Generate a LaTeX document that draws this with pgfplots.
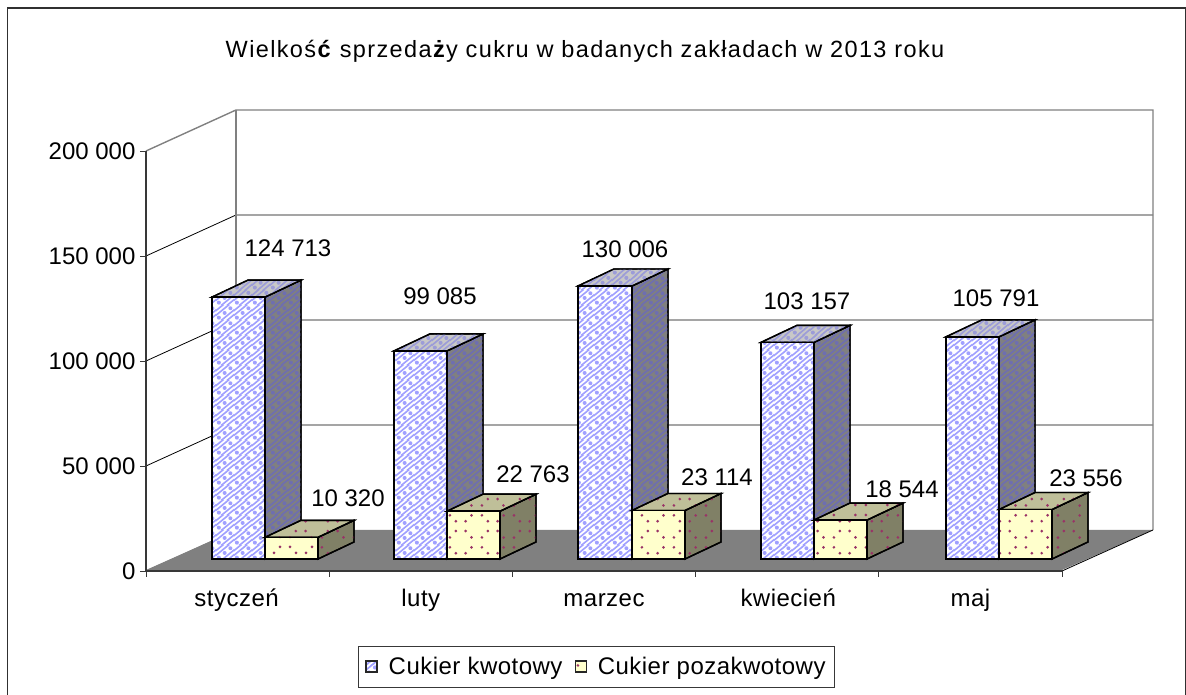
\documentclass[border=0pt]{standalone}
\usepackage{fontspec}
\setmainfont{Liberation Sans}
\usepackage{pgfplots}
\pgfplotsset{compat=1.18}
\usetikzlibrary{patterns}
\definecolor{wall}{HTML}{808080}
\definecolor{axisc}{HTML}{383838}
\definecolor{framec}{HTML}{303030}
\definecolor{kwa}{HTML}{A0A0FF}
\definecolor{kwb}{HTML}{6E6EB0}
\definecolor{kwc}{HTML}{9C9CD8}
\definecolor{kwtop}{HTML}{C8C8C8}
\definecolor{yfront}{HTML}{FFFFCC}
\definecolor{ytop}{HTML}{BFBF99}
\definecolor{yside}{HTML}{808066}
\definecolor{ydot}{HTML}{993366}
\pgfdeclarepatternformonly{kwpat}{\pgfqpoint{0pt}{0pt}}{\pgfqpoint{18pt}{15pt}}{\pgfqpoint{18pt}{15pt}}{
  \pgfsetlinewidth{1.7pt}
  \pgfpathmoveto{\pgfqpoint{-2pt}{3.33pt}}\pgfpathlineto{\pgfqpoint{20pt}{21.67pt}}
  \pgfpathmoveto{\pgfqpoint{-2pt}{8.33pt}}\pgfpathlineto{\pgfqpoint{20pt}{26.67pt}}
  \pgfpathmoveto{\pgfqpoint{-2pt}{-11.67pt}}\pgfpathlineto{\pgfqpoint{20pt}{6.67pt}}
  \pgfpathmoveto{\pgfqpoint{-2pt}{-6.67pt}}\pgfpathlineto{\pgfqpoint{20pt}{11.67pt}}
  \pgfusepath{stroke}
  \pgfpathcircle{\pgfqpoint{3pt}{2.5pt}}{2.1pt}
  \pgfpathcircle{\pgfqpoint{9pt}{7.5pt}}{2.1pt}
  \pgfpathcircle{\pgfqpoint{15pt}{12.5pt}}{2.1pt}
  \pgfusepath{fill}
}
\pgfdeclarepatternformonly{ypat}{\pgfqpoint{0pt}{0pt}}{\pgfqpoint{32pt}{32pt}}{\pgfqpoint{32pt}{32pt}}{
  \pgfpathcircle{\pgfqpoint{8pt}{4pt}}{1.5pt}
  \pgfpathcircle{\pgfqpoint{8pt}{14pt}}{1.5pt}
  \pgfpathcircle{\pgfqpoint{18pt}{4pt}}{1.5pt}
  \pgfpathcircle{\pgfqpoint{18pt}{14pt}}{1.5pt}
  \pgfpathcircle{\pgfqpoint{2pt}{20pt}}{1.5pt}
  \pgfpathcircle{\pgfqpoint{2pt}{30pt}}{1.5pt}
  \pgfpathcircle{\pgfqpoint{24pt}{20pt}}{1.5pt}
  \pgfpathcircle{\pgfqpoint{24pt}{30pt}}{1.5pt}
  \pgfusepath{fill}
}
\newcommand\fs{\fontsize{24}{26}\selectfont}
\tikzset{
  edge/.style={draw=black,line width=1.4pt,line join=miter},
  kwfront/.style={edge,preaction={fill=white},pattern=kwpat,pattern color=kwa},
  kwside/.style={edge,preaction={fill=wall},pattern=kwpat,pattern color=kwb},
  kwtops/.style={edge,preaction={fill=kwtop},pattern=kwpat,pattern color=kwc},
  yfronts/.style={edge,preaction={fill=yfront},pattern=ypat,pattern color=ydot},
  ysides/.style={edge,preaction={fill=yside},pattern=ypat,pattern color=ydot},
  ytops/.style={edge,preaction={fill=ytop},pattern=ypat,pattern color=ydot},
  lab/.style={font=\fs,anchor=center,inner sep=0pt},
}
% #1 x left, #2 x right (pixels), #3 value, #4 front, #5 top, #6 side
\newcommand\threedbar[6]{%
  \edef\yb{5714}%
  \edef\yt{\the\numexpr5714+#3\relax}%
  \edef\ybb{\the\numexpr5714+8095\relax}%
  \edef\ytb{\the\numexpr5714+#3+8095\relax}%
  \edef\xla{\the\numexpr#1+36\relax}%
  \edef\xra{\the\numexpr#2+36\relax}%
  \addplot[forget plot,#6] coordinates {(#2,\yb) (#2,\yt) (\xra,\ytb) (\xra,\ybb)} --cycle;
  \addplot[forget plot,#5] coordinates {(#1,\yt) (\xla,\ytb) (\xra,\ytb) (#2,\yt)} --cycle;
  \addplot[forget plot,#4] coordinates {(#1,\yb) (#1,\yt) (#2,\yt) (#2,\yb)} --cycle;
}
\begin{document}
\begin{tikzpicture}[x=1pt,y=1pt]
\useasboundingbox (0,0) rectangle (1186,695);
\begin{axis}[
  at={(146pt,124pt)},anchor=south west,
  scale only axis,width=916pt,height=420pt,
  xmin=146,xmax=1062,ymin=0,ymax=200000,
  clip=false,axis on top,
  axis x line=bottom,axis y line=left,
  axis line style={-,draw=axisc,line width=1.2pt},
  xtick={236.6,420.8,604,788.2,970.4},
  xticklabels={styczeń,luty,marzec,kwiecień,maj},
  minor xtick={146,329.2,512.4,695.6,878.8,1062},
  ytick={0,50000,100000,150000,200000},
  yticklabels={0,50 000,100 000,150 000,200 000},
  scaled y ticks=false,
  tick align=outside,
  major tick length=6pt,minor tick length=6pt,
  xtick style={draw=none},
  minor x tick style={draw=axisc,line width=0.9pt},
  ytick style={draw=axisc,line width=0.9pt},
  tick label style={font=\fs,text=black},
  xticklabel style={anchor=base,yshift=-30pt,font=\fs\addfontfeature{LetterSpace=2}},
  yticklabel style={xshift=-1pt},
  title={Wielkoś\textbf{ć} sprzeda\textbf{ż}y cukru w badanych zakładach w 2013 roku},
  title style={font=\fontsize{23.5}{26}\selectfont\addfontfeature{LetterSpace=5.8},at={(rel axis cs:0.4793,1.2238)},anchor=center,inner sep=0pt},
  legend columns=2,
  legend style={at={(axis cs:596.5,-45714)},anchor=center,draw=axisc,line width=0.9pt,
    font=\fs\addfontfeature{LetterSpace=2},
    inner xsep=6.5pt,inner ysep=9pt,
    /tikz/every odd column/.append style={column sep=9pt},
    /tikz/every even column/.append style={column sep=10pt}},
]
\addlegendimage{legend image code/.code={\draw[line width=1.3pt,draw=black!85,preaction={fill=white},pattern=kwpat,pattern color=kwa] (0pt,-5pt) rectangle (11pt,6pt);}}
\addlegendentry{Cukier kwotowy}
\addlegendimage{legend image code/.code={\draw[line width=1.3pt,draw=black!85,preaction={fill=yfront},pattern=ypat,pattern color=ydot] (0pt,-5pt) rectangle (11pt,6pt);}}
\addlegendentry{Cukier pozakwotowy}
% walls
\addplot[draw=black,line width=0.8pt,forget plot] coordinates {(146,50000) (236,69524) (1153,69524)};
\addplot[draw=black,line width=0.8pt,forget plot] coordinates {(146,100000) (236,119524) (1153,119524)};
\addplot[draw=black,line width=0.8pt,forget plot] coordinates {(146,150000) (236,169524) (1153,169524)};
\addplot[draw=wall,line width=1.4pt,forget plot] coordinates {(146,200000) (236,219524) (1153,219524) (1153,19524)};
\addplot[draw=wall,line width=1.4pt,forget plot] coordinates {(236,219524) (236,19524)};
% floor
\addplot[fill=wall,draw=none,forget plot] coordinates {(146,476) (1062,476) (1153,19524) (236,19524)} --cycle;
\addplot[draw=black,line width=0.8pt,forget plot] coordinates {(1062,0) (1153,19524)};
\addplot[draw=wall,line width=0.8pt,forget plot] coordinates {(146,0) (236,19524)};
% bars
\threedbar{212}{265}{124713}{kwfront}{kwtops}{kwside}
\threedbar{265}{318}{10320}{yfronts}{ytops}{ysides}
\threedbar{394}{447}{99085}{kwfront}{kwtops}{kwside}
\threedbar{447}{500}{22763}{yfronts}{ytops}{ysides}
\threedbar{578}{632}{130006}{kwfront}{kwtops}{kwside}
\threedbar{632}{685}{23114}{yfronts}{ytops}{ysides}
\threedbar{761}{814}{103157}{kwfront}{kwtops}{kwside}
\threedbar{814}{867}{18544}{yfronts}{ytops}{ysides}
\threedbar{946}{999}{105791}{kwfront}{kwtops}{kwside}
\threedbar{999}{1052}{23556}{yfronts}{ytops}{ysides}
% value labels
\node[lab] at (axis cs:288,153810) {124 713};
\node[lab] at (axis cs:440,130952) {99 085};
\node[lab] at (axis cs:625,153333) {130 006};
\node[lab] at (axis cs:807,128571) {103 157};
\node[lab] at (axis cs:996,130000) {105 791};
\node[lab] at (axis cs:348,34762) {10 320};
\node[lab] at (axis cs:533,46190) {22 763};
\node[lab] at (axis cs:717,44762) {23 114};
\node[lab] at (axis cs:902,39048) {18 544};
\node[lab] at (axis cs:1086,44286) {23 556};
\end{axis}
\draw[draw=framec,line width=1.5pt] (7.5,-2) -- (7.5,687) -- (1185.3,687) -- (1185.3,-2);
\end{tikzpicture}
\end{document}
